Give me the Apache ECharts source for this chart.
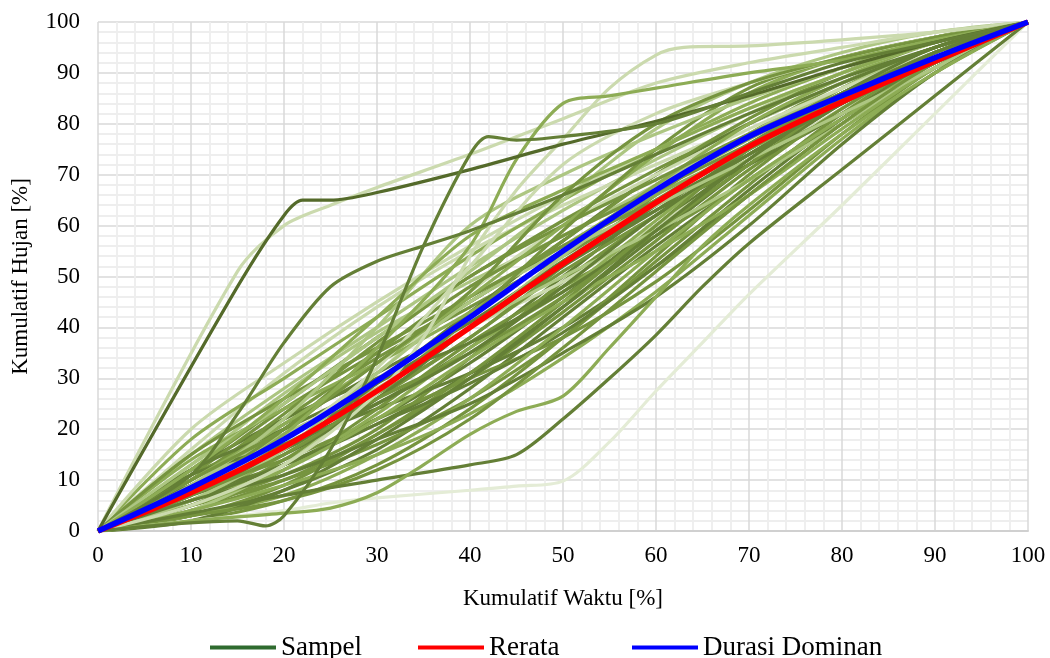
<!DOCTYPE html>
<html>
<head>
<meta charset="utf-8">
<script src="https://cdn.jsdelivr.net/npm/echarts@6/dist/echarts.min.js"></script>
<style>
  html, body { margin: 0; padding: 0; background: #fff; }
  #chart { width: 1050px; height: 658px; }
</style>
</head>
<body>
<div id="chart"></div>
<script>
// Kumulatif waktu (x) untuk kurva biasa
var waktu = [0, 10, 20, 30, 40, 50, 60, 70, 80, 90, 100];

// Kurva sampel (y pada setiap titik waktu)
var sampel = [
  [0, 12, 25, 38, 50, 61, 71, 80, 88, 95, 100],
  [0, 6, 13, 22, 33, 46, 60, 73, 85, 94, 100],
  [0, 9, 20, 33, 45, 56, 67, 77, 86, 94, 100],
  [0, 4, 10, 19, 30, 43, 57, 71, 83, 93, 100],
  [0, 15, 28, 40, 52, 63, 73, 82, 90, 96, 100],
  [0, 8, 16, 25, 36, 50, 64, 76, 86, 94, 100],
  [0, 5, 11, 20, 34, 49, 62, 74, 84, 93, 100],
  [0, 10, 22, 34, 44, 54, 65, 76, 86, 94, 100],
  [0, 3, 8, 16, 28, 42, 56, 69, 81, 92, 100],
  [0, 7, 18, 30, 40, 49, 60, 72, 83, 93, 100],
  [0, 11, 19, 27, 38, 52, 66, 78, 88, 95, 100],
  [0, 6, 15, 27, 42, 55, 66, 75, 84, 93, 100],
  [0, 9, 17, 24, 31, 40, 52, 66, 80, 92, 100],
  [0, 13, 27, 39, 49, 58, 68, 78, 87, 95, 100],
  [0, 4, 12, 24, 37, 48, 58, 69, 80, 91, 100],
  [0, 7, 13, 21, 31, 44, 58, 72, 84, 93, 100],
  [0, 10, 21, 31, 41, 53, 63, 72, 82, 92, 100],
  [0, 5, 14, 26, 38, 51, 62, 73, 82, 91, 100],
  [0, 16, 31, 44, 55, 64, 72, 80, 88, 95, 100],
  [0, 8, 14, 22, 30, 38, 49, 63, 78, 91, 100],
  [0, 6, 12, 23, 36, 47, 61, 75, 86, 94, 100],
  [0, 12, 22, 30, 37, 47, 59, 72, 84, 94, 100],
  [0, 3, 9, 19, 31, 45, 60, 75, 87, 95, 100],
  [0, 9, 19, 28, 40, 54, 67, 78, 87, 95, 100],
  [0, 18, 30, 42, 54, 65, 75, 84, 91, 97, 100],
  [0, 5, 10, 17, 26, 38, 53, 68, 82, 93, 100],
  [0, 7, 16, 29, 43, 57, 70, 80, 88, 95, 100],
  [0, 11, 24, 35, 45, 57, 70, 81, 90, 96, 100],
  [0, 2, 6, 13, 24, 38, 54, 70, 83, 93, 100],
  [0, 8, 18, 31, 47, 60, 70, 79, 87, 94, 100],
  [0, 14, 24, 33, 43, 55, 68, 80, 89, 96, 100],
  [0, 6, 13, 21, 29, 39, 52, 67, 81, 93, 100],
  [0, 10, 23, 37, 50, 60, 69, 78, 86, 94, 100],
  [0, 4, 13, 27, 40, 50, 59, 69, 80, 91, 100],
  [0, 9, 15, 26, 40, 53, 64, 74, 84, 93, 100],
  [0, 20, 33, 45, 56, 66, 75, 83, 90, 96, 100],
  [0, 5, 12, 22, 34, 45, 55, 66, 79, 91, 100],
  [0, 12, 20, 29, 40, 52, 63, 75, 86, 95, 100],
  [0, 7, 17, 26, 35, 46, 59, 72, 85, 94, 100],
  [0, 3, 7, 15, 26, 40, 55, 69, 81, 92, 100],
  [0, 11, 17, 25, 35, 48, 62, 74, 84, 92, 100],
  [0, 8, 20, 35, 48, 58, 67, 76, 85, 94, 100],
  [0, 6, 16, 31, 45, 55, 64, 73, 82, 91, 100],
  [0, 15, 26, 36, 46, 56, 65, 75, 85, 94, 100],
  [0, 2, 8, 18, 30, 44, 59, 73, 85, 94, 100],
  [0, 10, 21, 33, 46, 60, 74, 86, 93, 97, 100],
  [0, 13, 25, 38, 51, 65, 79, 88, 94, 98, 100],
  [0, 7, 15, 27, 42, 59, 75, 87, 93, 97, 100],
  [0, 4, 9, 15, 23, 34, 47, 62, 77, 90, 100],
  [0, 6, 11, 18, 25, 35, 46, 60, 76, 90, 100],
  [0, 3, 6, 12, 22, 36, 51, 66, 80, 92, 100],
  [0, 9, 22, 40, 60, 70, 78, 85, 91, 96, 100],
  [0, 12, 26, 42, 58, 67, 75, 83, 90, 96, 100],
  [0, 8, 18, 32, 52, 72, 82, 88, 93, 97, 100],
  [0, 10, 20, 33, 47, 66, 80, 88, 93, 97, 100]
];
// indeks warna per kurva sampel (0 = tua, 6 = paling pucat)
var warnaSampel = [2, 1, 3, 2, 4, 1, 2, 2, 1, 5, 2, 3, 1, 4, 2, 1, 1, 2, 5, 2,
  3, 1, 2, 4, 3, 2, 1, 2, 2, 5, 3, 1, 2, 4, 1, 5, 3, 1, 2, 3,
  1, 2, 4, 2, 1, 3, 4, 2, 3, 1, 2, 4, 3, 5, 2];

// Kurva sampel dengan titik waktu khusus
var waktuA = [0, 15, 20, 22, 25, 30, 40, 50, 60, 70, 80, 90, 100];
var hujanA = [0, 48, 62, 65, 65, 66.5, 71, 76, 80.5, 85.5, 91, 96, 100];
var waktuB = [0, 15, 18, 20, 25, 30, 35, 40, 42, 45, 50, 60, 70, 80, 90, 100];
var hujanB = [0, 2, 1, 3, 16, 34, 56, 74, 77.5, 76.8, 77.5, 80, 86, 92, 96, 100];
var waktuC = [0, 15, 20, 25, 30, 40, 50, 60, 70, 80, 90, 100];
var hujanC = [0, 51, 60, 64, 67.5, 74, 81, 88, 92, 95, 98, 100];
var waktuD = [0, 10, 20, 30, 35, 40, 45, 50, 55, 60, 63, 70, 80, 90, 100];
var hujanD = [0, 5, 13, 27, 38, 54, 67, 77, 87, 93.5, 95, 95.3, 96.5, 98, 100];
var waktuE = [0, 10, 20, 30, 40, 45, 50, 55, 60, 70, 80, 90, 100];
var hujanE = [0, 8, 19, 36, 56, 73, 84, 85.5, 87, 90, 92.5, 96.5, 100];
var waktuF = [0, 10, 15, 20, 25, 30, 35, 40, 50, 60, 70, 80, 90, 100];
var hujanF = [0, 11, 23, 37, 48, 53, 56, 59, 66, 74, 82, 89, 95, 100];
var waktuG = [0, 10, 20, 25, 30, 40, 45, 50, 55, 60, 65, 70, 80, 90, 100];
var hujanG = [0, 2, 4, 5.5, 6.5, 8, 8.8, 9.8, 17.5, 27.5, 37, 46.5, 64, 82, 100];
var waktuH = [0, 10, 20, 30, 40, 45, 50, 55, 60, 65, 70, 80, 90, 100];
var hujanH = [0, 3.5, 7, 10, 13, 15, 22, 30, 38.5, 48, 56.5, 71, 85.5, 100];
var waktuI = [0, 10, 20, 25, 30, 35, 40, 45, 50, 55, 60, 65, 70, 80, 90, 100];
var hujanI = [0, 2, 3.5, 4.5, 7.5, 13, 19, 23.5, 26.5, 36, 46, 56, 64, 78, 90, 100];

var khusus = [
  [waktuG, hujanG, 6],
  [waktuH, hujanH, 1],
  [waktuI, hujanI, 3],
  [waktuC, hujanC, 5],
  [waktuD, hujanD, 5],
  [waktuE, hujanE, 3],
  [waktuF, hujanF, 1],
  [waktuA, hujanA, 0],
  [waktuB, hujanB, 1]
];

// Rerata dan durasi dominan
var rerata = [0, 7.5, 16.5, 27.5, 40, 52.5, 64.5, 75.5, 84.3, 92.3, 100];
var durasiDominan = [0, 8.5, 18, 29.5, 42, 55, 67, 77.5, 85.5, 93, 100];

var palet = ['#546a2a', '#647f36', '#76943f', '#8dac55', '#adc682', '#cbdaae', '#e4ecd6'];

function pasangkan(xs, ys) {
  return xs.map(function (x, i) { return [x, ys[i]]; });
}

function garisSampel(data, warna) {
  return {
    name: 'sampel-kurva',
    type: 'line',
    data: data,
    smooth: 0.3,
    showSymbol: false,
    silent: true,
    lineStyle: { color: warna, width: 3.2 },
    itemStyle: { color: warna },
    z: 2
  };
}

var series = [];
sampel.forEach(function (ys, i) {
  series.push(garisSampel(pasangkan(waktu, ys), palet[warnaSampel[i]]));
});
khusus.forEach(function (k) {
  series.push(garisSampel(pasangkan(k[0], k[1]), palet[k[2]]));
});

// seri kosong, hanya untuk legenda
series.push({
  name: 'Sampel', type: 'line', data: [],
  itemStyle: { color: '#2f6b2f' }, lineStyle: { color: '#2f6b2f', width: 4 }
});
series.push({
  name: 'Rerata', type: 'line', data: pasangkan(waktu, rerata),
  smooth: 0.3, showSymbol: false, z: 5,
  itemStyle: { color: '#ff0000' }, lineStyle: { color: '#ff0000', width: 5.5 }
});
series.push({
  name: 'Durasi Dominan', type: 'line', data: pasangkan(waktu, durasiDominan),
  smooth: 0.3, showSymbol: false, z: 6,
  itemStyle: { color: '#0000ff' }, lineStyle: { color: '#0000ff', width: 5.5 }
});

var fontSerif = '"Liberation Serif", "Times New Roman", serif';

function legenda(nama, kiri) {
  return {
    data: [nama],
    left: kiri,
    top: 629,
    icon: 'rect',
    itemWidth: 66,
    itemHeight: 4,
    textStyle: { fontFamily: fontSerif, fontSize: 27, color: '#000' }
  };
}

var myChart = echarts.init(document.getElementById('chart'));

var option = {
  animation: false,
  backgroundColor: '#ffffff',
  grid: { left: 98, right: 22, top: 22, bottom: 127, outerBoundsMode: 'none' },
  legend: [
    legenda('Sampel', 205),
    legenda('Rerata', 413),
    legenda('Durasi Dominan', 627)
  ],
  xAxis: {
    type: 'value',
    min: 0,
    max: 100,
    interval: 10,
    name: 'Kumulatif Waktu [%]',
    nameLocation: 'middle',
    nameGap: 56,
    nameTextStyle: { fontFamily: fontSerif, fontSize: 23, color: '#000' },
    axisLine: { show: true, lineStyle: { color: '#d0d0d0', width: 2 } },
    axisTick: { show: false },
    axisLabel: { fontFamily: fontSerif, fontSize: 23, color: '#000', margin: 13 },
    splitLine: { show: true, lineStyle: { color: '#d9d9d9', width: 1.5 } },
    minorTick: { show: false, splitNumber: 5 },
    minorSplitLine: { show: true, lineStyle: { color: '#eeeeee', width: 1.8 } }
  },
  yAxis: {
    type: 'value',
    min: 0,
    max: 100,
    interval: 10,
    name: 'Kumulatif Hujan [%]',
    nameLocation: 'middle',
    nameGap: 66,
    nameTextStyle: { fontFamily: fontSerif, fontSize: 23, color: '#000' },
    axisLine: { show: false },
    axisTick: { show: false },
    axisLabel: { fontFamily: fontSerif, fontSize: 23, color: '#000', margin: 18 },
    splitLine: { show: true, lineStyle: { color: '#d9d9d9', width: 1.5 } },
    minorTick: { show: false, splitNumber: 5 },
    minorSplitLine: { show: true, lineStyle: { color: '#eeeeee', width: 1.8 } }
  },
  series: series
};

myChart.setOption(option);
</script>
</body>
</html>
